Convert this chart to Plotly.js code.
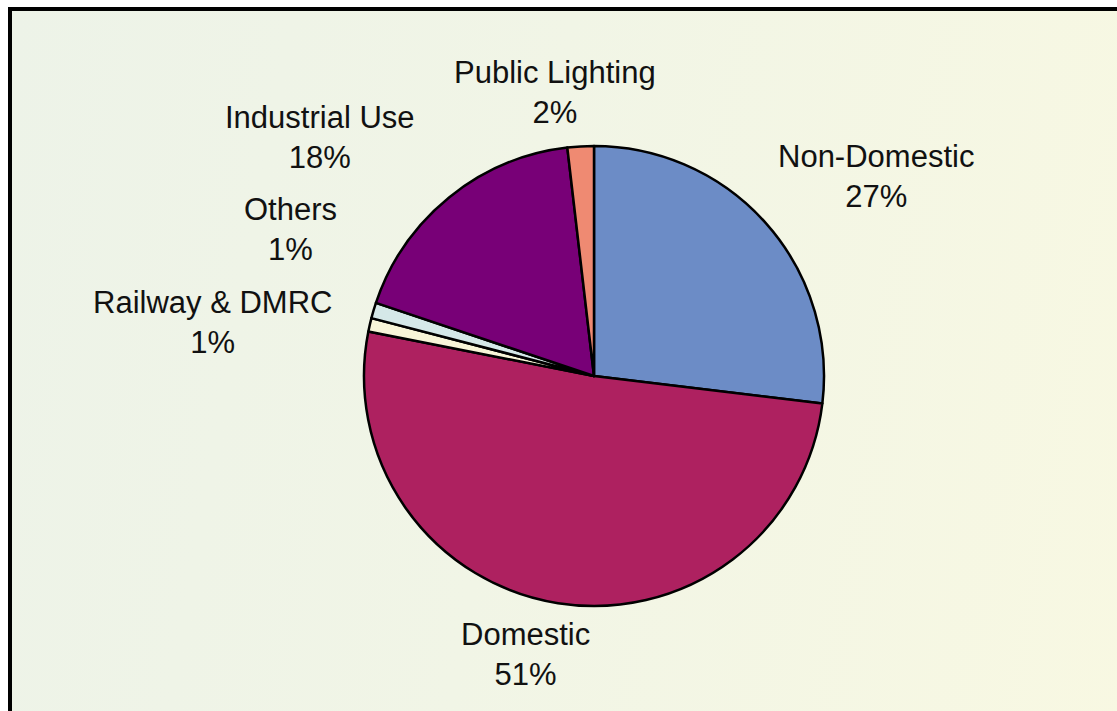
<!DOCTYPE html>
<html>
<head>
<meta charset="utf-8">
<script src="https://cdn.plot.ly/plotly-3.0.1.min.js"></script>
<style>
  html, body { margin: 0; padding: 0; background: #ffffff; overflow: hidden; }
  #wrap { position: relative; width: 1117px; height: 711px; }
  #frame {
    position: absolute; left: 8px; top: 7px; width: 1130px; height: 720px;
    border: 4px solid #000; box-sizing: border-box;
    background: linear-gradient(100deg, #edf3e8 0%, #f1f5e6 45%, #f8f8e2 100%);
  }
  #chart { position: absolute; left: 0; top: 0; width: 1117px; height: 711px; }
</style>
</head>
<body>
<div id="wrap">
  <div id="frame"></div>
  <div id="chart"></div>
</div>
<script>
// Data
const categories = ["Non-Domestic", "Domestic", "Railway & DMRC", "Others", "Industrial Use", "Public Lighting"];
const shares = [26.9, 51.2, 0.95, 1.1, 18.0, 1.85];
const sliceColors = ["#6c8cc6", "#ae2160", "#f8f5d8", "#d5e8e8", "#780077", "#ef8a72"];

// Label positions (pixel centres of each two-line label block) – styling only
const labelPos = [
  [876, 176], [525, 654], [212, 323], [290, 230], [320, 137], [555, 93]
];

const W = 1117, H = 711;
const total = shares.reduce((a, b) => a + b, 0);

const annotations = categories.map((c, i) => ({
  text: c + "<br>" + Math.round(shares[i] / total * 100) + "%",
  x: labelPos[i][0] / W, y: 1 - labelPos[i][1] / H,
  xref: "paper", yref: "paper", xanchor: "center", yanchor: "middle",
  showarrow: false, align: "center",
  font: { family: "Liberation Sans, Arial, sans-serif", size: 31, color: "#111" }
}));

const cx = 594, cy = 376, r = 230;
const trace = {
  type: "pie",
  labels: categories,
  values: shares,
  sort: false,
  direction: "clockwise",
  rotation: 0,
  marker: { colors: sliceColors, line: { color: "#000", width: 2.5 } },
  textinfo: "none",
  hoverinfo: "label+percent",
  showlegend: false,
  domain: { x: [(cx - r) / W, (cx + r) / W], y: [1 - (cy + r) / H, 1 - (cy - r) / H] }
};

Plotly.newPlot("chart", [trace], {
  width: W, height: H,
  margin: { l: 0, r: 0, t: 0, b: 0 },
  paper_bgcolor: "rgba(0,0,0,0)",
  plot_bgcolor: "rgba(0,0,0,0)",
  showlegend: false,
  annotations: annotations
}, { displayModeBar: false, staticPlot: true });
</script>
</body>
</html>
